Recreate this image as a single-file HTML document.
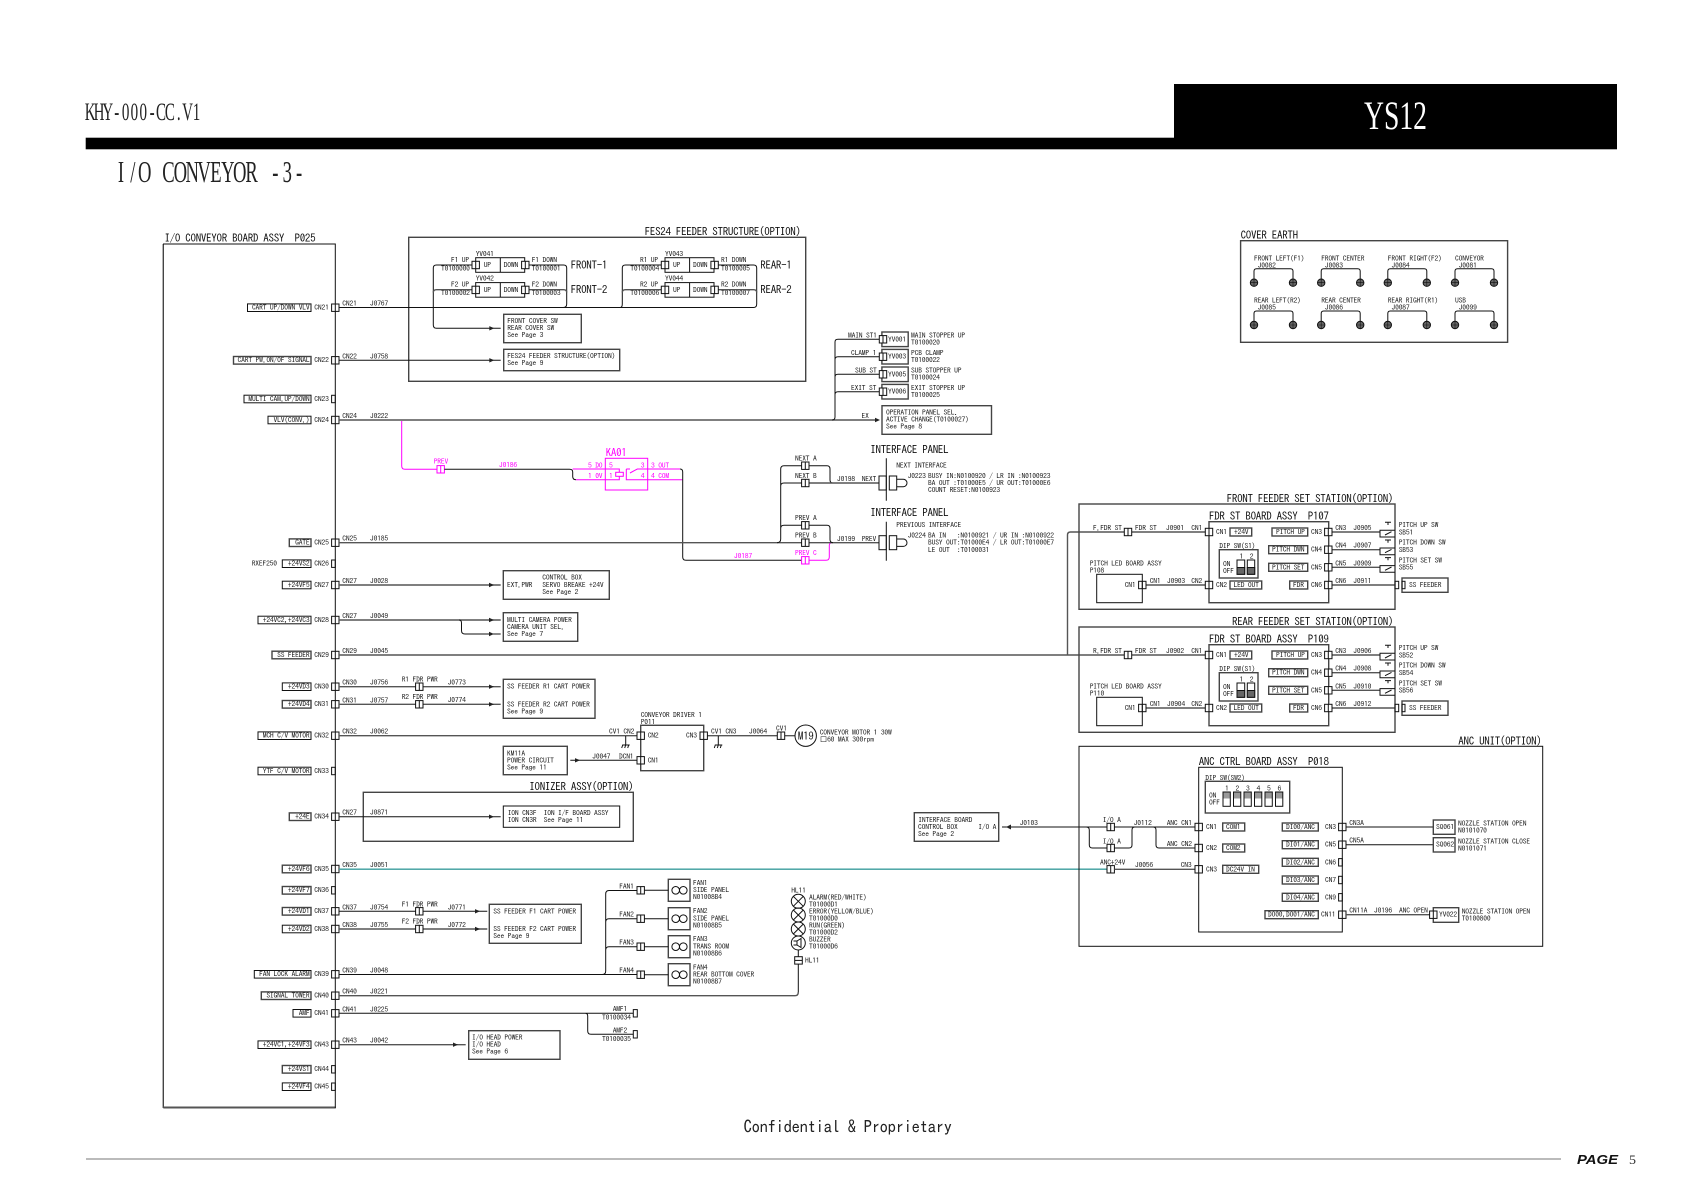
<!DOCTYPE html>
<html><head><meta charset="utf-8"><title>I/O CONVEYOR -3-</title>
<style>
html,body{margin:0;padding:0;background:#fff}
svg{display:block}
text{font-family:"IPAGothic","Liberation Mono",monospace;font-size:7.6px;letter-spacing:-.2px;fill:#222;white-space:pre}
.h{font-size:11px;letter-spacing:-.3px;fill:#111}
.e{text-anchor:end}
.p{fill:#f0f;stroke:none}
rect,path,circle{fill:none;stroke:#111;stroke-width:1}
.g{stroke:#555;stroke-width:1.4}
.m{stroke:#f0f}
.t{stroke:#3a9c9c;stroke-width:1.3}
.s{fill:#222;stroke:none}
.b{stroke-width:1.4;stroke:#444}
.w{fill:#fff}
.k{fill:#666}
.d{fill:#999;stroke:none}
.z{font-family:"Liberation Serif",serif;letter-spacing:0;text-anchor:middle}
</style></head><body>
<svg width="1682" height="1190" viewBox="0 0 1682 1190" xmlns="http://www.w3.org/2000/svg">
<defs>
<g id="c"><rect class="w" x="-3.7" y="-3.7" width="7.4" height="7.4"/><path d="M0-3.7V3.7"/></g>
<g id="n"><rect x="-3.7" y="-3.7" width="3.7" height="7.4"/></g>
<path id="a" class="s" d="M-5-2.2L0 0-5 2.2z"/>
<g id="v"><rect x="0" y="-7.3" width="49" height="14.6"/><path d="M24.6-7.3V7.3"/><use href="#c" x="0" y="0"/><use href="#c" x="49.6" y="0"/><text x="8" y="2.4">UP</text><text x="28" y="2.4">DOWN</text></g>
<g id="gnd"><path d="M0 0V9M-3.5 9H4M-3 9L-4 12M0 9L-1 12M3 9L2 12"/></g>
<g id="sw"><path d="M15-1.7H0V5H15M5 3L11.5-.3"/><path d="M5-9.7H11M8-9.7V-7"/></g>
<g id="l"><circle cx="0" cy="0" r="7"/><path d="M-5-5L5 5M-5 5L5-5"/></g>
<g id="pl"><rect x="0" y="-7" width="7.3" height="14"/><rect x="10.3" y="-7" width="7.4" height="14"/><path d="M17.7-3.7H24.3A3.7 3.7 0 0 1 24.3 3.7H17.7"/></g>
<g id="f"><rect x="668.3" y="-11" width="21.7" height="22" class="b"/><circle cx="675.7" cy="0" r="3.8"/><circle cx="683.3" cy="0" r="3.8"/><use href="#c" x="640.7" y="0"/><path d="M644.4 0H668.3"/></g>
<g id="e"><path d="M0 14V2.5Q0 0 2.5 0H36.5Q39 0 39 2.5V14"/><circle class="k" cx="0" cy="14" r="3.7"/><circle class="k" cx="39" cy="14" r="3.7"/><path d="M-3.7 14H3.7M0 10.3V17.7M35.3 14H42.7M39 10.3V17.7" style="stroke:#111;stroke-width:.6"/></g>
<g id="fdr">
<rect x="1079" y="504" width="316" height="105.3" class="b"/>
<rect x="1209" y="521.7" width="119.7" height="81" class="b"/>
<path class="g" d="M1132 532H1205M1146 585H1205M1332 532H1380M1332 549.7H1380M1332 567.3H1380M1332 585H1395"/>
<use href="#c" x="1128" y="532"/><use href="#c" x="1209" y="532"/><use href="#c" x="1209" y="585"/><use href="#c" x="1142.3" y="585"/>
<use href="#c" x="1328.3" y="532"/><use href="#c" x="1328.3" y="549.7"/><use href="#c" x="1328.3" y="567.3"/><use href="#c" x="1328.3" y="585"/>
<text x="1135" y="530.5">FDR ST</text><text x="1191.3" y="530.5">CN1</text><text x="1216" y="534.5">CN1</text>
<rect x="1230" y="528" width="21.7" height="8" class="b"/><text x="1234" y="534.5">+24V</text>
<rect x="1272" y="528" width="35.7" height="8" class="b"/><text x="1276" y="534.5">PITCH UP</text><text x="1311" y="534.5">CN3</text>
<rect x="1268.7" y="545.7" width="39" height="8" class="b"/><text x="1272" y="552.2">PITCH DWN</text><text x="1311" y="552.2">CN4</text>
<rect x="1268.7" y="563.3" width="39" height="8" class="b"/><text x="1272" y="569.8">PITCH SET</text><text x="1311" y="569.8">CN5</text>
<rect x="1289.7" y="581" width="18" height="8" class="b"/><text x="1293" y="587.5">FDR</text><text x="1311" y="587.5">CN6</text>
<text x="1335.3" y="530.5">CN3</text><text x="1335.3" y="548.2">CN4</text><text x="1335.3" y="565.8">CN5</text><text x="1335.3" y="583.5">CN6</text>
<use href="#sw" x="1380" y="532"/><use href="#sw" x="1380" y="549.7"/><use href="#sw" x="1380" y="567.3"/>
<text x="1398.7" y="527.5">PITCH UP SW</text><text x="1398.7" y="545.2">PITCH DOWN SW</text><text x="1398.7" y="562.8">PITCH SET SW</text>
<rect x="1395" y="581.3" width="3.7" height="7.4"/><rect x="1402" y="578" width="46" height="14.3" class="b"/><rect x="1402" y="581.3" width="3" height="7.4"/>
<text x="1409" y="587.5">SS FEEDER</text>
<text x="1219.3" y="548.5">DIP SW(S1)</text>
<rect x="1219.3" y="549.7" width="38.7" height="28.3" class="b"/>
<text x="1223" y="566.5">ON</text><text x="1223" y="573.5">OFF</text><text x="1239.5" y="559">1</text><text x="1249.8" y="559">2</text>
<rect x="1237" y="560" width="7.7" height="14.3"/><rect x="1247.3" y="560" width="7.4" height="14.3"/>
<rect class="k" x="1237" y="567.5" width="7.7" height="6.8"/><rect class="k" x="1247.3" y="567.5" width="7.4" height="6.8"/>
<text x="1089.7" y="566">PITCH LED BOARD ASSY</text>
<rect x="1096.7" y="574.3" width="45.6" height="28.4"/><text x="1124.7" y="587.5">CN1</text>
<text x="1149.7" y="583.5">CN1</text><text x="1191.3" y="583.5">CN2</text><text x="1216" y="587.5">CN2</text>
<rect x="1230" y="581" width="31.7" height="8" class="b"/><text x="1233.5" y="587.5">LED OUT</text>
</g>
</defs>

<!-- header -->
<text class="z" transform="translate(85.7,120) scale(.6,1)" x="7.4 22.2 36.9 51.7 66.5 81.2 96 110.8 125.5 140.3 155.1 169.8 184.6" y="0" style="font-size:25px">KHY-000-CC.V1</text>
<rect x="85.7" y="137.7" width="1531.3" height="11.6" style="fill:#000;stroke:none"/>
<rect x="1174" y="84" width="443" height="60" style="fill:#000;stroke:none"/>
<text x="1364" y="129" textLength="63" lengthAdjust="spacingAndGlyphs" style="font-family:'Liberation Serif',serif;font-size:40px;letter-spacing:0;fill:#fff">YS12</text>
<text class="z" transform="translate(115,182) scale(.6,1)" x="9.9 29.7 49.5 69.3 89.1 108.9 128.7 148.5 168.3 188.1 207.9 227.7 247.5 267.3 287.1 306.9" y="0" style="font-size:31px">I/O CONVEYOR -3-</text>

<!-- main board -->
<text class="h" x="164.5" y="242">I/O CONVEYOR BOARD ASSY  P025</text>
<path d="M163.3 244V1108" class="b"/><path d="M163.3 1107.5H335.8" style="stroke:#555;stroke-width:2"/><path d="M163 244H335.3V1108"/>

<!-- left label boxes -->
<g>
<rect x="247.5" y="303.9" width="63.5" height="7.6"/><text class="e" x="309.5" y="310.1">CART UP/DOWN VLV</text><text x="314.3" y="310.1">CN21</text><use href="#c" x="335.3" y="307.7"/>
<rect x="233.5" y="356.5" width="77.5" height="7.6" class="b"/><text class="e" x="309.5" y="362.7">CART PW.ON/OF SIGNAL</text><text x="314.3" y="362.7">CN22</text><use href="#c" x="335.3" y="360.3"/>
<rect x="244" y="395.2" width="67" height="7.6"/><text class="e" x="309.5" y="401.4">MULTI CAM.UP/DOWN</text><text x="314.3" y="401.4">CN23</text><use href="#n" x="335.3" y="399"/>
<rect x="268" y="416.2" width="43" height="7.6"/><text class="e" x="309.5" y="422.4">VLV(CONV.)</text><text x="314.3" y="422.4">CN24</text><use href="#c" x="335.3" y="420"/>
<rect x="289.3" y="538.9" width="21.7" height="7.6" class="b"/><text class="e" x="309.5" y="545.1">GATE</text><text x="314.3" y="545.1">CN25</text><use href="#c" x="335.3" y="542.7"/>
<text x="251.7" y="566.1">RXEF250</text><rect x="282.3" y="559.9" width="28.7" height="7.6"/><text class="e" x="309.5" y="566.1">+24VS2</text><text x="314.3" y="566.1">CN26</text><use href="#n" x="335.3" y="563.7"/>
<rect x="282.3" y="581.2" width="28.7" height="7.6"/><text class="e" x="309.5" y="587.4">+24VF5</text><text x="314.3" y="587.4">CN27</text><use href="#c" x="335.3" y="585"/>
<rect x="258" y="616.2" width="53" height="7.6"/><text class="e" x="309.5" y="622.4">+24VC2,+24VC3</text><text x="314.3" y="622.4">CN28</text><use href="#c" x="335.3" y="620"/>
<rect x="272" y="651.2" width="39" height="7.6" class="b"/><text class="e" x="309.5" y="657.4">SS FEEDER</text><text x="314.3" y="657.4">CN29</text><use href="#c" x="335.3" y="655"/>
<rect x="282.3" y="682.9" width="28.7" height="7.6"/><text class="e" x="309.5" y="689.1">+24VD3</text><text x="314.3" y="689.1">CN30</text><use href="#c" x="335.3" y="686.7"/>
<rect x="282.3" y="700.5" width="28.7" height="7.6" class="b"/><text class="e" x="309.5" y="706.7">+24VD4</text><text x="314.3" y="706.7">CN31</text><use href="#c" x="335.3" y="704.3"/>
<rect x="258" y="731.9" width="53" height="7.6"/><text class="e" x="309.5" y="738.1">MCH C/V MOTOR</text><text x="314.3" y="738.1">CN32</text><use href="#c" x="335.3" y="735.7"/>
<rect x="258" y="767.2" width="53" height="7.6"/><text class="e" x="309.5" y="773.4">YTF C/V MOTOR</text><text x="314.3" y="773.4">CN33</text><use href="#n" x="335.3" y="771"/>
<rect x="289.3" y="812.9" width="21.7" height="7.6" class="b"/><text class="e" x="309.5" y="819.1">+24E</text><text x="314.3" y="819.1">CN34</text><use href="#c" x="335.3" y="816.7"/>
<rect x="282.3" y="865.2" width="28.7" height="7.6" class="b"/><text class="e" x="309.5" y="871.4">+24VF6</text><text x="314.3" y="871.4">CN35</text><use href="#c" x="335.3" y="869"/>
<rect x="282.3" y="886.5" width="28.7" height="7.6" class="b"/><text class="e" x="309.5" y="892.7">+24VF7</text><text x="314.3" y="892.7">CN36</text><use href="#n" x="335.3" y="890.3"/>
<rect x="282.3" y="907.5" width="28.7" height="7.6" class="b"/><text class="e" x="309.5" y="913.7">+24VD1</text><text x="314.3" y="913.7">CN37</text><use href="#c" x="335.3" y="911.3"/>
<rect x="282.3" y="925.2" width="28.7" height="7.6"/><text class="e" x="309.5" y="931.4">+24VD2</text><text x="314.3" y="931.4">CN38</text><use href="#c" x="335.3" y="929"/>
<rect x="254.3" y="970.5" width="56.7" height="7.6"/><text class="e" x="309.5" y="976.7">FAN LOCK ALARM</text><text x="314.3" y="976.7">CN39</text><use href="#c" x="335.3" y="974.3"/>
<rect x="261.3" y="991.9" width="49.7" height="7.6" class="b"/><text class="e" x="309.5" y="998.1">SIGNAL TOWER</text><text x="314.3" y="998.1">CN40</text><use href="#c" x="335.3" y="995.7"/>
<rect x="293" y="1009.5" width="18" height="7.6"/><text class="e" x="309.5" y="1015.7">AMF</text><text x="314.3" y="1015.7">CN41</text><use href="#c" x="335.3" y="1013.3"/>
<rect x="258" y="1040.9" width="53" height="7.6"/><text class="e" x="309.5" y="1047.1">+24VC1,+24VF3</text><text x="314.3" y="1047.1">CN43</text><use href="#c" x="335.3" y="1044.7"/>
<rect x="282.3" y="1065.5" width="28.7" height="7.6" class="b"/><text class="e" x="309.5" y="1071.7">+24VS1</text><text x="314.3" y="1071.7">CN44</text><use href="#n" x="335.3" y="1069.3"/>
<rect x="282.3" y="1082.9" width="28.7" height="7.6"/><text class="e" x="309.5" y="1089.1">+24VF4</text><text x="314.3" y="1089.1">CN45</text><use href="#n" x="335.3" y="1086.7"/>
</g>

<!-- wire labels -->
<g>
<text x="342.3" y="306">CN21</text><text x="370" y="306">J0767</text>
<text x="342.3" y="358.8">CN22</text><text x="370" y="358.8">J0758</text>
<text x="342.3" y="418.5">CN24</text><text x="370" y="418.5">J0222</text>
<text x="342.3" y="541.2">CN25</text><text x="370" y="541.2">J0185</text>
<text x="342.3" y="583.5">CN27</text><text x="370" y="583.5">J0028</text>
<text x="342.3" y="618.5">CN27</text><text x="370" y="618.5">J0049</text>
<text x="342.3" y="653.5">CN29</text><text x="370" y="653.5">J0045</text>
<text x="342.3" y="685.2">CN30</text><text x="370" y="685.2">J0756</text>
<text x="342.3" y="702.8">CN31</text><text x="370" y="702.8">J0757</text>
<text x="342.3" y="734.2">CN32</text><text x="370" y="734.2">J0062</text>
<text x="342.3" y="815.2">CN27</text><text x="370" y="815.2">J0871</text>
<text x="342.3" y="867.5">CN35</text><text x="370" y="867.5">J0051</text>
<text x="342.3" y="909.8">CN37</text><text x="370" y="909.8">J0754</text>
<text x="342.3" y="927.5">CN38</text><text x="370" y="927.5">J0755</text>
<text x="342.3" y="972.8">CN39</text><text x="370" y="972.8">J0048</text>
<text x="342.3" y="994.2">CN40</text><text x="370" y="994.2">J0221</text>
<text x="342.3" y="1011.8">CN41</text><text x="370" y="1011.8">J0225</text>
<text x="342.3" y="1043.2">CN43</text><text x="370" y="1043.2">J0042</text>
</g>

<!-- FES24 -->
<rect x="408.7" y="237.3" width="397" height="144" class="b"/>
<text class="h" x="644.7" y="235.7">FES24 FEEDER STRUCTURE(OPTION)</text>
<path d="M339 307.5H753.5Q756.7 307.5 756.7 304V268Q756.7 265 753.5 265H718"/>
<path d="M472 265H436.5Q433.3 265 433.3 268V325Q433.3 328.3 436.5 328.3H500.7"/>
<path class="g" d="M472 289.7H436.5Q433.3 289.7 433.3 292.5"/>
<path d="M529 265H563.5Q566.7 265 566.7 268V304Q566.7 307.5 563 307.5"/>
<path class="g" d="M529 289.7H563.5Q566.7 289.7 566.7 292.5"/>
<path d="M661 265H625.5Q622.3 265 622.3 268V304Q622.3 307.5 620 307.5"/>
<path class="g" d="M661 289.7H625.5Q622.3 289.7 622.3 292.5M718 289.7H753.5Q756.7 289.7 756.7 292.5"/>
<use href="#v" x="475.7" y="265"/><use href="#v" x="475.7" y="289.9"/><use href="#v" x="665" y="265"/><use href="#v" x="665" y="289.9"/>
<text x="475.7" y="256.7">YV041</text><text x="475.7" y="281.2">YV042</text><text x="665" y="256.7">YV043</text><text x="665" y="281.2">YV044</text>
<text x="451" y="262.3">F1 UP</text><text x="441" y="271">T0100000</text><text x="531.7" y="262.3">F1 DOWN</text><text x="531.7" y="271">T0100001</text>
<text x="451" y="287">F2 UP</text><text x="441" y="295.7">T0100002</text><text x="531.7" y="287">F2 DOWN</text><text x="531.7" y="295.7">T0100003</text>
<text x="640" y="262.3">R1 UP</text><text x="630.3" y="271">T0100004</text><text x="721" y="262.3">R1 DOWN</text><text x="721" y="271">T0100005</text>
<text x="640" y="287">R2 UP</text><text x="630.3" y="295.7">T0100006</text><text x="721" y="287">R2 DOWN</text><text x="721" y="295.7">T0100007</text>
<text class="h" x="570.7" y="269">FRONT-1</text><text class="h" x="570.7" y="293.3">FRONT-2</text><text class="h" x="760.3" y="269">REAR-1</text><text class="h" x="760.3" y="293.3">REAR-2</text>
<use href="#a" x="494.3" y="328.3"/>
<rect x="503.7" y="314.3" width="77.6" height="28.4" class="b"/>
<text x="507.3" y="323.3">FRONT COVER SW</text><text x="507.3" y="330.3">REAR COVER SW</text><text x="507.3" y="337.3">See Page 3</text>
<path d="M339 360.3H500.7"/><use href="#a" x="494.3" y="360.3"/>
<rect x="503.7" y="349.3" width="116" height="21.4" class="b"/>
<text x="507.3" y="358.7">FES24 FEEDER STRUCTURE(OPTION)</text><text x="507.3" y="365.7">See Page 9</text>

<!-- stoppers -->
<path class="g" d="M339 420H875"/><use href="#a" x="880" y="420"/>
<path d="M832 420Q835 420 835 417V342Q835 339.3 838 339.3H880M835 359.5Q835 356.7 838 356.7H880M835 377Q835 374.3 838 374.3H880M835 394.5Q835 391.7 838 391.7H880"/>
<rect x="881.9" y="332" width="26.3" height="14.6" class="b"/><use href="#c" x="883" y="339.3"/><text x="888" y="341.8">YV001</text>
<rect x="881.9" y="349.4" width="26.3" height="14.6" class="b"/><use href="#c" x="883" y="356.7"/><text x="888" y="359.2">YV003</text>
<rect x="881.9" y="367" width="26.3" height="14.6" class="b"/><use href="#c" x="883" y="374.3"/><text x="888" y="376.8">YV005</text>
<rect x="881.9" y="384.4" width="26.3" height="14.6" class="b"/><use href="#c" x="883" y="391.7"/><text x="888" y="394.2">YV006</text>
<text x="848" y="338">MAIN ST1</text><text x="851" y="355.5">CLAMP 1</text><text x="855" y="373">SUB ST</text><text x="851" y="390.5">EXIT ST</text>
<text x="911" y="338">MAIN STOPPER UP</text><text x="911" y="345">T0100020</text>
<text x="911" y="355.5">PCB CLAMP</text><text x="911" y="362.5">T0100022</text>
<text x="911" y="373">SUB STOPPER UP</text><text x="911" y="380">T0100024</text>
<text x="911" y="390.5">EXIT STOPPER UP</text><text x="911" y="397.5">T0100025</text>
<text x="861.5" y="418.7">EX</text>
<rect x="882" y="405.7" width="109.5" height="28.6" class="b"/>
<text x="886" y="415.2">OPERATION PANEL SEL.</text><text x="886" y="422.2">ACTIVE CHANGE(T0100027)</text><text x="886" y="429.2">See Page 8</text>

<!-- pink relay path -->
<path class="m" d="M401.7 421V466Q401.7 469.3 405 469.3H437"/>
<rect x="437" y="465.6" width="7.4" height="7.4" class="m"/><path class="m" d="M440.7 465.6V473"/>
<text class="p" x="433.7" y="464">PREV</text><text class="p" x="499" y="467.3">J0186</text>
<path d="M444.4 469.3H569.5Q572.7 469.3 572.7 472V476.5Q572.7 479.7 576 479.7"/>
<path class="m" d="M572.7 469H619.3V472.3M576 479.7H619.3V476.3"/>
<rect x="605.3" y="458.3" width="42.4" height="31.7" class="m"/>
<rect x="615.7" y="472.3" width="7.6" height="4" class="m"/>
<path class="m" d="M647.7 469H637.3L630 473M626.3 469H630M626.3 469V479.7H682.3M647.7 469H680"/>
<text class="h p" x="605.7" y="456.7">KA01</text>
<text class="p" x="588" y="468">5 DO</text><text class="p" x="588" y="478.5">1 0V</text><text class="p" x="609" y="468">5</text><text class="p" x="609" y="478.5">1</text>
<text class="p" x="640.7" y="468">3</text><text class="p" x="640.7" y="478.5">4</text><text class="p" x="651" y="468">3 OUT</text><text class="p" x="651" y="478.5">4 COM</text>
<path d="M680 469Q682.7 469 682.7 472V557Q682.7 560.3 686 560.3H801.6"/>
<text class="p" x="734" y="558.7">J0187</text><text class="p" x="795" y="555.3">PREV C</text>
<rect x="801.6" y="556.6" width="7.4" height="7.4" class="m"/><path class="m" d="M805.3 556.6V564M809 560.3H826Q829.3 560.3 829.3 557V545.5Q829.3 542.7 831.7 542.7"/>

<!-- interface panels -->
<path class="g" d="M339 542.7H879"/>
<path d="M777 542.7Q780.7 542.7 780.7 539V469Q780.7 465.7 784 465.7H827Q830 465.7 830 469V480Q830 483 833 483M780.7 486Q780.7 483 784 483H801.6M780.7 528.5Q780.7 525.3 784 525.3H827Q830 525.3 830 528.5V539.5Q830 542.7 833 542.7"/>
<path class="g" d="M809 483H879"/>
<use href="#c" x="805.3" y="465.7"/><use href="#c" x="805.3" y="483"/><use href="#c" x="805.3" y="525.3"/><use href="#c" x="805.3" y="542.7"/>
<text x="795" y="460.8">NEXT A</text><text x="795" y="478.5">NEXT B</text><text x="795" y="520.5">PREV A</text><text x="795" y="538">PREV B</text>
<text x="837" y="481.7">J0198</text><text x="861.7" y="481.7">NEXT</text><text x="837" y="541.3">J0199</text><text x="861.7" y="541.3">PREV</text>
<use href="#pl" x="879" y="483"/><use href="#pl" x="879" y="542.7"/>
<path d="M886.3 458.3V500.7M886.3 521.7V560.7"/>
<text class="h" x="870.3" y="453.3">INTERFACE PANEL</text><text class="h" x="870.3" y="516.7">INTERFACE PANEL</text>
<text x="896.3" y="468">NEXT INTERFACE</text>
<text x="907.7" y="478.5">J0223</text><text x="928" y="478.5">BUSY IN:N0100920 / LR IN :N0100923</text><text x="928" y="485.5">BA OUT :T01000E5 / UR OUT:T01000E6</text><text x="928" y="492.5">COUNT RESET:N0100923</text>
<text x="896.3" y="527.5">PREVIOUS INTERFACE</text>
<text x="907.7" y="538">J0224</text><text x="928" y="538">BA IN   :N0100921 / UR IN :N0100922</text><text x="928" y="545">BUSY OUT:T01000E4 / LR OUT:T01000E7</text><text x="928" y="552.5">LE OUT  :T0100031</text>

<!-- CN27 / CN28 -->
<path class="g" d="M339 585H500.7M339 620H500.7"/><use href="#a" x="494" y="585"/><use href="#a" x="494" y="620"/>
<path d="M459 620Q461.5 620 461.5 623V630.5Q461.5 634 465 634H500.7"/><use href="#a" x="494" y="634"/>
<rect x="503.3" y="570.7" width="106" height="28.6" class="b"/>
<text x="507" y="587.5">EXT.PWR</text><text x="542.3" y="580">CONTROL BOX</text><text x="542.3" y="587.5">SERVO BREAKE +24V</text><text x="542.3" y="594.5">See Page 2</text>
<rect x="503.3" y="612.7" width="74.4" height="28.6" class="b"/>
<text x="507" y="622.5">MULTI CAMERA POWER</text><text x="507" y="629.5">CAMERA UNIT SEL.</text><text x="507" y="636.5">See Page 7</text>

<!-- CN29 -->
<path class="g" d="M339 655H1124M1067.5 655V535Q1067.5 532 1070.5 532H1124"/>

<!-- CN30 / 31 -->
<path class="g" d="M339 686.7H415.6M423 686.7H500.7M339 704.3H415.6M423 704.3H500.7"/>
<use href="#c" x="419.3" y="686.7"/><use href="#c" x="419.3" y="704.3"/><use href="#a" x="494" y="686.7"/><use href="#a" x="494" y="704.3"/>
<text x="401.7" y="682">R1 FDR PWR</text><text x="447.7" y="685">J0773</text><text x="401.7" y="699.7">R2 FDR PWR</text><text x="447.7" y="702.7">J0774</text>
<rect x="503.3" y="679.3" width="91.7" height="39" class="b"/>
<text x="507" y="689">SS FEEDER R1 CART POWER</text><text x="507" y="706.8">SS FEEDER R2 CART POWER</text><text x="507" y="713.8">See Page 9</text>

<!-- CN32 driver -->
<path class="g" d="M339 735.7H637M707.4 735.7H777.3M784.7 735.7H795"/>
<use href="#gnd" x="625.7" y="736"/><use href="#gnd" x="718.3" y="736"/>
<text x="609" y="734">CV1 CN2</text><text x="640.7" y="717.5">CONVEYOR DRIVER 1</text><text x="640.7" y="724.5">P011</text>
<rect x="640.7" y="725.3" width="63" height="45.4" class="b"/>
<use href="#c" x="640.7" y="735.7"/><use href="#c" x="703.7" y="735.7"/><use href="#c" x="640.7" y="760.3"/><use href="#c" x="781" y="735.7"/>
<text x="647.7" y="738">CN2</text><text x="686" y="738">CN3</text><text x="647.7" y="762.8">CN1</text>
<text x="711" y="734">CV1 CN3</text><text x="749" y="734">J0064</text><text x="776" y="731">CV1</text>
<circle cx="805.7" cy="735.7" r="10.7"/><text class="h" x="805.7" y="740" text-anchor="middle">M19</text>
<text x="819.7" y="734.8">CONVEYOR MOTOR 1 30W</text><text x="819.7" y="741.8">□60 MAX 300rpm</text>
<rect x="503.3" y="746.3" width="64" height="28.4" class="b"/>
<text x="507" y="755.8">KM11A</text><text x="507" y="762.8">POWER CIRCUIT</text><text x="507" y="769.8">See Page 11</text>
<path d="M570.3 760.3H637"/><use href="#a" x="580" y="760.3"/>
<text x="592.3" y="759">J0047</text><text x="619" y="759">DCN1</text>

<!-- Ionizer -->
<text class="h" x="529.3" y="790.7">IONIZER ASSY(OPTION)</text>
<rect x="363.3" y="792.3" width="270" height="49" class="b"/>
<path d="M339 816.7H500.7"/><use href="#a" x="494" y="816.7"/>
<rect x="503.3" y="806" width="116.4" height="21.3"/>
<text x="507.7" y="815.5">ION CN3F  ION I/F BOARD ASSY</text><text x="507.7" y="822.5">ION CN3R  See Page 11</text>

<!-- teal -->
<path class="t" d="M339 869.2H1107"/>

<!-- CN37/38 -->
<path d="M339 911.3H415.6M423 911.3H487.3"/><path class="g" d="M339 929H415.6M423 929H487.3"/>
<use href="#c" x="419.3" y="911.3"/><use href="#c" x="419.3" y="929"/><use href="#a" x="480" y="911.3"/><use href="#a" x="480" y="929"/>
<text x="401.7" y="906.8">F1 FDR PWR</text><text x="447.7" y="910">J0771</text><text x="401.7" y="924">F2 FDR PWR</text><text x="447.7" y="927.3">J0772</text>
<rect x="489.3" y="904.3" width="92" height="39" class="b"/>
<text x="493.3" y="913.8">SS FEEDER F1 CART POWER</text><text x="493.3" y="931.5">SS FEEDER F2 CART POWER</text><text x="493.3" y="938.5">See Page 9</text>

<!-- fans -->
<path d="M339 974.5H637M602 974.5Q605.7 974.5 605.7 971V894Q605.7 890.5 609 890.5H637M605.7 922Q605.7 918.7 609 918.7H637M605.7 950Q605.7 946.7 609 946.7H637"/>
<use href="#f" x="0" y="890.3"/><use href="#f" x="0" y="918.7"/><use href="#f" x="0" y="946.7"/><use href="#f" x="0" y="974.7"/>
<text x="619.3" y="889">FAN1</text><text x="619.3" y="917">FAN2</text><text x="619.3" y="945">FAN3</text><text x="619.3" y="973">FAN4</text>
<text x="693" y="885.5">FAN1</text><text x="693" y="892.5">SIDE PANEL</text><text x="693" y="899.5">N01008B4</text>
<text x="693" y="913.5">FAN2</text><text x="693" y="921">SIDE PANEL</text><text x="693" y="928">N01008B5</text>
<text x="693" y="941.5">FAN3</text><text x="693" y="949">TRANS ROOM</text><text x="693" y="956">N01008B6</text>
<text x="693" y="970">FAN4</text><text x="693" y="977">REAR BOTTOM COVER</text><text x="693" y="984">N01008B7</text>

<!-- lamps -->
<path class="g" d="M339 995.7H795Q798.3 995.7 798.3 992"/><path d="M798.3 992V964M798.3 950V956.7"/>
<rect x="794.7" y="956.7" width="7.6" height="7.4"/><path d="M794.7 960.4H802.3"/>
<text x="805" y="962.8">HL11</text><text x="791.3" y="892.8">HL11</text>
<use href="#l" x="798.3" y="901.3"/><use href="#l" x="798.3" y="915"/><use href="#l" x="798.3" y="929"/>
<circle cx="798.3" cy="943" r="7"/><path d="M793.5 941H797V945H793.5M797 941L801 938.5V947.5L797 945"/>
<text x="809" y="899.8">ALARM(RED/WHITE)</text><text x="809" y="906.8">T01000D1</text><text x="809" y="913.8">ERROR(YELLOW/BLUE)</text><text x="809" y="921">T01000D0</text><text x="809" y="928">RUN(GREEN)</text><text x="809" y="935">T01000D2</text><text x="809" y="941.8">BUZZER</text><text x="809" y="948.8">T01000D6</text>

<!-- AMF -->
<path d="M339 1013.3H633.3M585 1013.3Q587.7 1013.3 587.7 1016V1031Q587.7 1034.3 591 1034.3H633.3"/>
<rect x="633.3" y="1009.6" width="4" height="7.4"/><rect x="633.3" y="1030.6" width="4" height="7.4"/>
<text x="612.7" y="1011.5">AMF1</text><text x="602" y="1020">T0100034</text><text x="612.7" y="1033">AMF2</text><text x="602" y="1041.5">T0100035</text>

<!-- CN43 -->
<path class="g" d="M339 1044.7H465.7"/><use href="#a" x="458" y="1044.7"/>
<rect x="468.7" y="1030.7" width="91.3" height="28.6" class="b"/>
<text x="472" y="1040">I/O HEAD POWER</text><text x="472" y="1047">I/O HEAD</text><text x="472" y="1054">See Page 6</text>

<!-- Cover earth -->
<text class="h" x="1240.6" y="239">COVER EARTH</text>
<rect x="1240.6" y="240.7" width="267" height="101.6" class="b"/>
<use href="#e" x="1254" y="268.7"/><use href="#e" x="1321.2" y="268.7"/><use href="#e" x="1387.8" y="268.7"/><use href="#e" x="1455" y="268.7"/>
<use href="#e" x="1254" y="311"/><use href="#e" x="1321.2" y="311"/><use href="#e" x="1387.8" y="311"/><use href="#e" x="1455" y="311"/>
<text x="1254" y="260.8">FRONT LEFT(F1)</text><text x="1257.7" y="267.8">J0082</text>
<text x="1321.2" y="260.8">FRONT CENTER</text><text x="1324.9" y="267.8">J0083</text>
<text x="1387.8" y="260.8">FRONT RIGHT(F2)</text><text x="1391.5" y="267.8">J0084</text>
<text x="1455" y="260.8">CONVEYOR</text><text x="1458.7" y="267.8">J0081</text>
<text x="1254" y="302.8">REAR LEFT(R2)</text><text x="1257.7" y="310">J0085</text>
<text x="1321.2" y="302.8">REAR CENTER</text><text x="1324.9" y="310">J0086</text>
<text x="1387.8" y="302.8">REAR RIGHT(R1)</text><text x="1391.5" y="310">J0087</text>
<text x="1455" y="302.8">USB</text><text x="1458.7" y="310">J0099</text>

<!-- feeder stations -->
<use href="#fdr" x="0" y="0"/><use href="#fdr" x="0" y="123"/>
<text class="h" x="1226.7" y="502.7">FRONT FEEDER SET STATION(OPTION)</text>
<text class="h" x="1232" y="625.7">REAR FEEDER SET STATION(OPTION)</text>
<text class="h" x="1209" y="520">FDR ST BOARD ASSY  P107</text><text class="h" x="1209" y="643">FDR ST BOARD ASSY  P109</text>
<text x="1093" y="530.5">F.FDR ST</text><text x="1166" y="530.5">J0901</text><text x="1093" y="653.5">R.FDR ST</text><text x="1166" y="653.5">J0902</text>
<text x="1089.7" y="573">P108</text><text x="1089.7" y="696">P110</text>
<text x="1167" y="583.5">J0903</text><text x="1167" y="706.5">J0904</text>
<text x="1353.3" y="530.5">J0905</text><text x="1353.3" y="548.2">J0907</text><text x="1353.3" y="565.8">J0909</text><text x="1353.3" y="583.5">J0911</text>
<text x="1353.3" y="653.5">J0906</text><text x="1353.3" y="671.2">J0908</text><text x="1353.3" y="688.8">J0910</text><text x="1353.3" y="706.5">J0912</text>
<text x="1398.7" y="534.8">SB51</text><text x="1398.7" y="552.5">SB53</text><text x="1398.7" y="570">SB55</text>
<text x="1398.7" y="657.8">SB52</text><text x="1398.7" y="675.5">SB54</text><text x="1398.7" y="693">SB56</text>

<!-- ANC -->
<text class="h" x="1458.3" y="745">ANC UNIT(OPTION)</text>
<rect x="1079" y="746.3" width="463.7" height="200"/>
<text class="h" x="1198.7" y="765.7">ANC CTRL BOARD ASSY  P018</text>
<rect x="1198.7" y="767.3" width="143.6" height="164.7"/>
<text x="1205.3" y="780.5">DIP SW(SW2)</text>
<rect x="1205.3" y="781.3" width="84.4" height="31.7" class="b"/>
<text x="1209" y="797.8">ON</text><text x="1209" y="804.8">OFF</text>
<rect class="d" x="1223" y="792" width="7.3" height="6.5"/><rect class="d" x="1233.5" y="792" width="7.3" height="6.5"/><rect class="d" x="1244" y="792" width="7.3" height="6.5"/><rect class="d" x="1254.5" y="792" width="7.3" height="6.5"/><rect class="d" x="1265" y="792" width="7.3" height="6.5"/><rect class="d" x="1275.5" y="792" width="7.3" height="6.5"/>
<rect x="1223" y="792" width="7.3" height="14.3"/><rect x="1233.5" y="792" width="7.3" height="14.3"/><rect x="1244" y="792" width="7.3" height="14.3"/><rect x="1254.5" y="792" width="7.3" height="14.3"/><rect x="1265" y="792" width="7.3" height="14.3"/><rect x="1275.5" y="792" width="7.3" height="14.3"/>
<text x="1225" y="790.8">1</text><text x="1235.5" y="790.8">2</text><text x="1246" y="790.8">3</text><text x="1256.5" y="790.8">4</text><text x="1267" y="790.8">5</text><text x="1277.5" y="790.8">6</text>
<rect x="914.3" y="812.7" width="84.4" height="28.6" class="b"/>
<text x="918.3" y="822.5">INTERFACE BOARD</text><text x="918" y="829.5">CONTROL BOX</text><text x="918" y="836.5">See Page 2</text><text x="978.3" y="829.5">I/O A</text>
<path d="M1002 827H1195M1086 827Q1089.3 827 1089.3 830V845Q1089.3 848 1092.5 848H1107M1114.4 848H1129Q1132 848 1132 845V830Q1132 827 1135 827M1153 827Q1156 827 1156 830V845Q1156 848 1159 848H1195"/>
<path d="M1006 827L1011 824.5V829.5z" class="s"/>
<use href="#c" x="1110.7" y="827"/><use href="#c" x="1110.7" y="848"/><use href="#c" x="1110.7" y="869.3"/>
<path class="g" d="M1114.4 869.3H1195"/>
<text x="1019.7" y="825.7">J0103</text>
<text x="1102.7" y="822.7">I/O A</text><text x="1102.7" y="843.8">I/O A</text><text x="1100" y="864.8">ANC+24V</text>
<text x="1133.7" y="825.5">J0112</text><text x="1166.7" y="825.5">ANC CN1</text><text x="1166.7" y="846.5">ANC CN2</text><text x="1135" y="867.5">J0056</text><text x="1180.7" y="867.5">CN3</text>
<use href="#c" x="1198.7" y="827"/><use href="#c" x="1198.7" y="848"/><use href="#c" x="1198.7" y="869.3"/>
<text x="1206" y="829.5">CN1</text><text x="1206" y="850.5">CN2</text><text x="1206" y="871.8">CN3</text>
<rect x="1222.7" y="823" width="22" height="8" class="b"/><text x="1226" y="829.5">COM1</text>
<rect x="1222.7" y="844" width="22" height="8" class="b"/><text x="1226" y="850.5">COM2</text>
<rect x="1222.7" y="865.3" width="36" height="8" class="b"/><text x="1226" y="871.8">DC24V IN</text>
<rect x="1282.3" y="823" width="36" height="8" class="b"/><text x="1286" y="829.5">DI00/ANC</text><text x="1325" y="829.5">CN3</text><use href="#c" x="1342.3" y="827"/>
<rect x="1282.3" y="840.7" width="36" height="8" class="b"/><text x="1286" y="847.2">DI01/ANC</text><text x="1325" y="847.2">CN5</text><use href="#c" x="1342.3" y="844.7"/>
<rect x="1282.3" y="858.3" width="36" height="8" class="b"/><text x="1286" y="864.8">DI02/ANC</text><text x="1325" y="864.8">CN6</text><use href="#n" x="1342.3" y="862.3"/>
<rect x="1282.3" y="876" width="36" height="8" class="b"/><text x="1286" y="882.5">DI03/ANC</text><text x="1325" y="882.5">CN7</text><use href="#n" x="1342.3" y="880"/>
<rect x="1282.3" y="893.3" width="36" height="8" class="b"/><text x="1286" y="899.8">DI04/ANC</text><text x="1325" y="899.8">CN9</text><use href="#n" x="1342.3" y="897.3"/>
<rect x="1265" y="910.7" width="53.3" height="8" class="b"/><text x="1268" y="917.2">DO00,DO01/ANC</text><text x="1321" y="917.2">CN11</text><use href="#c" x="1342.3" y="914.7"/>
<path d="M1346 827H1433.3M1346 844.7H1433.3"/><path class="g" d="M1346 914.7H1430"/>
<text x="1349.3" y="825.5">CN3A</text><text x="1349.3" y="843.2">CN5A</text><text x="1349.3" y="913.2">CN11A</text><text x="1374" y="913.2">J0196</text><text x="1399" y="913.2">ANC OPEN</text>
<rect x="1433.3" y="820" width="21.7" height="14.3" class="b"/><text x="1436" y="829.5">SQ061</text>
<rect x="1433.3" y="837.7" width="21.7" height="14.3" class="b"/><text x="1436" y="847.2">SQ062</text>
<text x="1458" y="826">NOZZLE STATION OPEN</text><text x="1458" y="833">N0101070</text><text x="1458" y="843.8">NOZZLE STATION CLOSE</text><text x="1458" y="851">N0101071</text>
<rect x="1433.3" y="907.7" width="25.4" height="14.6" class="b"/><use href="#c" x="1433.3" y="914.7"/><text x="1439" y="917.2">YV022</text>
<text x="1461.7" y="913.8">NOZZLE STATION OPEN</text><text x="1461.7" y="921">T0100800</text>

<!-- footer -->
<text x="743.5" y="1133" style="font-size:17px;letter-spacing:-.5px;fill:#222">Confidential &amp; Proprietary</text>
<path d="M86 1159H1561" style="stroke:#bbb;stroke-width:2"/>
<text x="1577" y="1164" textLength="41" lengthAdjust="spacingAndGlyphs" style="font-family:'Liberation Sans',sans-serif;font-size:13px;font-style:italic;font-weight:bold;letter-spacing:0;fill:#111">PAGE</text>
<text x="1629" y="1164" textLength="7" lengthAdjust="spacingAndGlyphs" style="font-family:'Liberation Serif',serif;font-size:13px;letter-spacing:0;fill:#333">5</text>
</svg>
</body></html>
